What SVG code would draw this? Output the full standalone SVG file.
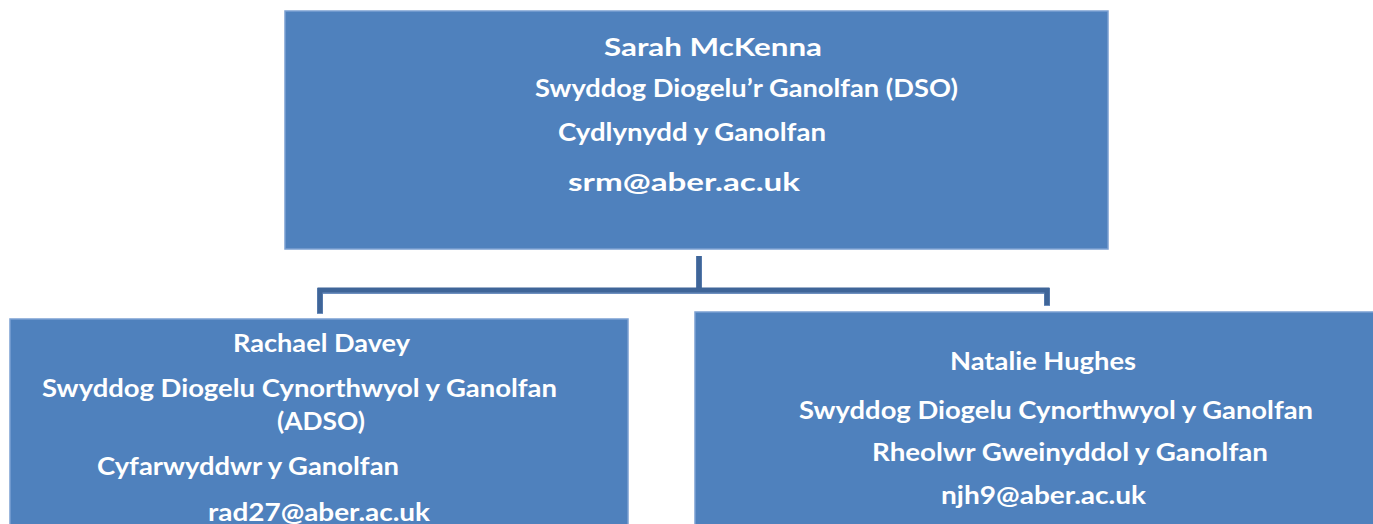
<svg xmlns="http://www.w3.org/2000/svg" width="1373" height="524" viewBox="0 0 1373 524">
<style>
.box{fill:#4f81bd;stroke:#7ba0d2;stroke-width:1.5}
.t{fill:#ffffff;font-family:Lato,"Open Sans","Liberation Sans",sans-serif;font-weight:bold;font-size:25px}
.c{fill:none;stroke:#3f6598;stroke-width:5;stroke-linejoin:miter}
.cs{fill:none;stroke:#6d8fbf;stroke-width:6;stroke-linejoin:miter}
</style>
<rect width="1373" height="524" fill="#ffffff"/>
<g id="connectors">
<path class="cs" d="M699,256 V291 M320,314 V291 H1047 V306"/>
<path class="c" d="M699,256 V290 M320,313 V290 H1047 V305"/>
</g>
<g id="node-sarah">
<rect class="box" x="285" y="11" width="823" height="238"/>
<text class="t" x="604" y="56" textLength="218" lengthAdjust="spacingAndGlyphs">Sarah McKenna</text>
<text class="t" x="535" y="97" textLength="423" lengthAdjust="spacingAndGlyphs">Swyddog Diogelu’r Ganolfan (DSO)</text>
<text class="t" x="558" y="141" textLength="268" lengthAdjust="spacingAndGlyphs">Cydlynydd y Ganolfan</text>
<text class="t" x="568" y="191" textLength="232" lengthAdjust="spacingAndGlyphs">srm@aber.ac.uk</text>
</g>
<g id="node-rachael">
<rect class="box" x="10" y="319" width="618" height="210"/>
<text class="t" x="233" y="352" textLength="177" lengthAdjust="spacingAndGlyphs">Rachael Davey</text>
<text class="t" x="42" y="397" textLength="515" lengthAdjust="spacingAndGlyphs">Swyddog Diogelu Cynorthwyol y Ganolfan</text>
<text class="t" x="277" y="430" textLength="88" lengthAdjust="spacingAndGlyphs">(ADSO)</text>
<text class="t" x="97" y="475" textLength="302" lengthAdjust="spacingAndGlyphs">Cyfarwyddwr y Ganolfan</text>
<text class="t" x="208" y="521" textLength="222" lengthAdjust="spacingAndGlyphs">rad27@aber.ac.uk</text>
</g>
<g id="node-natalie">
<rect class="box" x="695" y="312" width="684" height="220"/>
<text class="t" x="950" y="370" textLength="186" lengthAdjust="spacingAndGlyphs">Natalie Hughes</text>
<text class="t" x="799" y="419" textLength="514" lengthAdjust="spacingAndGlyphs">Swyddog Diogelu Cynorthwyol y Ganolfan</text>
<text class="t" x="872" y="461" textLength="396" lengthAdjust="spacingAndGlyphs">Rheolwr Gweinyddol y Ganolfan</text>
<text class="t" x="941" y="504" textLength="205" lengthAdjust="spacingAndGlyphs">njh9@aber.ac.uk</text>
</g>
</svg>
